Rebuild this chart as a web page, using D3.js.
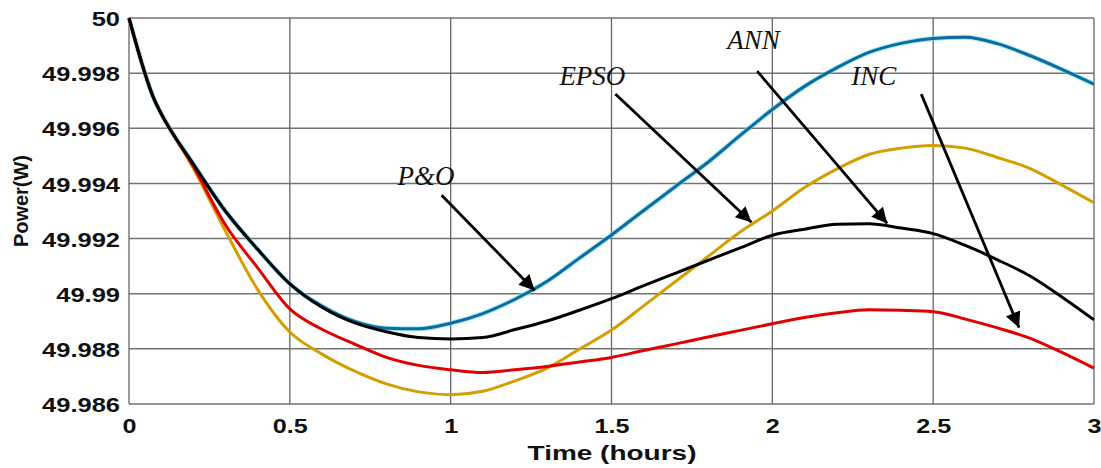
<!DOCTYPE html>
<html>
<head>
<meta charset="utf-8">
<script src="https://cdn.jsdelivr.net/npm/d3@7"></script>
<style>
  html, body { margin: 0; padding: 0; background: #fff; }
  svg { display: block; }
</style>
</head>
<body>
<div id="chart"></div>
<script>
// time axis (hours)
const hours = [0, 0.08, 0.1, 0.2, 0.3, 0.4, 0.5, 0.6, 0.7, 0.8, 0.9, 1.0, 1.1, 1.2, 1.3, 1.4, 1.5,
               1.6, 1.7, 1.8, 1.9, 2.0, 2.1, 2.2, 2.3, 2.4, 2.5, 2.6, 2.7, 2.8, 2.9, 3.0];

const poValues = [50, 49.9970, 49.99653, 49.9947, 49.99299, 49.99161, 49.99036, 49.98955, 49.98900,
                  49.98875, 49.98873, 49.98893, 49.98928, 49.9898, 49.99045, 49.99129, 49.99213,
                  49.99302, 49.9939, 49.99477, 49.99574, 49.99668, 49.99752, 49.99819, 49.99875,
                  49.99908, 49.99926, 49.99930, 49.99907, 49.99864, 49.99814, 49.9976];

const epsoValues = [50, 49.9970, 49.99654, 49.99455, 49.99227, 49.99015, 49.98861, 49.98781, 49.9872,
                    49.98673, 49.98644, 49.98634, 49.98646, 49.98684, 49.9873, 49.98799, 49.98868,
                    49.98956, 49.99045, 49.99135, 49.99224, 49.99300, 49.99385, 49.99452, 49.99505,
                    49.99528, 49.99538, 49.99528, 49.99494, 49.99455, 49.99394, 49.9933];

const incValues = [50, 49.9970, 49.99653, 49.99462, 49.99249, 49.99094, 49.98945, 49.98871, 49.98818,
                   49.98769, 49.9874, 49.98724, 49.98714, 49.98724, 49.98736, 49.98752, 49.98769,
                   49.98794, 49.98818, 49.98843, 49.98867, 49.98891, 49.98914, 49.98931, 49.98942,
                   49.9894, 49.98935, 49.98908, 49.98876, 49.98839, 49.98787, 49.9873];

const annValues = [50, 49.9970, 49.99653, 49.9947, 49.99299, 49.99161, 49.99036, 49.98951, 49.98895,
                   49.98862, 49.98841, 49.98836, 49.98841, 49.9887, 49.98901, 49.9894, 49.98982,
                   49.99029, 49.99075, 49.99121, 49.99166, 49.99212, 49.99234, 49.99252, 49.99254,
                   49.99238, 49.99218, 49.99175, 49.99123, 49.99065, 49.98988, 49.98905];

const xTicks = [0, 0.5, 1, 1.5, 2, 2.5, 3];
const xTickLabels = ['0', '0.5', '1', '1.5', '2', '2.5', '3'];
const yTicks = [49.986, 49.988, 49.99, 49.992, 49.994, 49.996, 49.998, 50];
const yTickLabels = ['49.986', '49.988', '49.99', '49.992', '49.994', '49.996', '49.998', '50'];

// annotation labels: text position and arrow from/to, in data units
const annotLabels = ['P&O', 'EPSO', 'ANN', 'INC'];
const annotText = [[0.835, 49.99393], [1.338, 49.99757], [1.860, 49.99887], [2.245, 49.99757]];
const annotFrom = [[0.972, 49.99357], [1.512, 49.99724], [1.953, 49.99807], [2.463, 49.99724]];
const annotTo = [[1.261, 49.99012], [1.935, 49.99259], [2.357, 49.99255], [2.767, 49.98877]];

const width = 1101;
const height = 468;
const margin = { top: 18, right: 7, bottom: 64, left: 129 };
const sansFont = '"Liberation Sans", Arial, sans-serif';

const svg = d3.select('#chart')
              .append('svg')
              .attr('width', width)
              .attr('height', height);

const x = d3.scaleLinear()
            .domain([0, 3])
            .range([margin.left, width - margin.right]);

const y = d3.scaleLinear()
            .domain([49.986, 50])
            .range([height - margin.bottom, margin.top]);

// grid
svg.append('g')
   .selectAll('line')
   .data(yTicks)
   .enter()
   .append('line')
   .attr('x1', x(0))
   .attr('x2', x(3))
   .attr('y1', (d) => y(d))
   .attr('y2', (d) => y(d))
   .attr('stroke', '#737373')
   .attr('stroke-width', 1.5);

svg.append('g')
   .selectAll('line')
   .data(xTicks)
   .enter()
   .append('line')
   .attr('x1', (d) => x(d))
   .attr('x2', (d) => x(d))
   .attr('y1', y(50))
   .attr('y2', y(49.986))
   .attr('stroke', '#666')
   .attr('stroke-width', 1.3);

// helper: stretch a text sideways so that a sample string gets a wanted width
const stretchFor = (sample, size, wanted) => {
  const t = svg.append('text')
               .style('font-family', sansFont)
               .style('font-weight', 'bold')
               .style('font-size', size + 'px')
               .text(sample);
  const w = t.node().getComputedTextLength();
  t.remove();
  return wanted / w;
};

// tick labels
const ySx = stretchFor('49.998', 21, 78);
const yAxis = d3.axisLeft(y).tickValues(yTicks).tickSize(0).tickPadding(0)
                .tickFormat((d, i) => yTickLabels[i]);
const yG = svg.append('g').attr('transform', 'translate(' + (x(0) - 9) + ',0)').call(yAxis);
yG.select('.domain').remove();
yG.selectAll('text')
  .attr('x', 0)
  .attr('dy', '0.36em')
  .attr('transform', 'scale(' + ySx + ',1)')
  .style('font-family', sansFont)
  .style('font-weight', 'bold')
  .style('font-size', '21px')
  .attr('fill', '#111');

const xSx = stretchFor('0.5', 20, 35);
const xAxis = d3.axisBottom(x).tickValues(xTicks).tickSize(0).tickPadding(0)
                .tickFormat((d, i) => xTickLabels[i]);
const xG = svg.append('g').attr('transform', 'translate(0,' + y(49.986) + ')').call(xAxis);
xG.select('.domain').remove();
xG.selectAll('text')
  .attr('y', 0)
  .attr('dy', 0)
  .attr('transform', 'translate(0,29) scale(' + xSx + ',1)')
  .style('font-family', sansFont)
  .style('font-weight', 'bold')
  .style('font-size', '20px')
  .attr('fill', '#111');

// axis titles
const tSx = stretchFor('Time (hours)', 20, 169);
svg.append('text')
   .attr('transform', 'translate(612,460) scale(' + tSx + ',1)')
   .attr('text-anchor', 'middle')
   .style('font-family', sansFont)
   .style('font-weight', 'bold')
   .style('font-size', '20px')
   .attr('fill', '#111')
   .text('Time (hours)');

const pSx = stretchFor('Power(W)', 21, 92);
svg.append('text')
   .attr('transform', 'translate(28,201) rotate(-90) scale(' + pSx + ',1)')
   .attr('text-anchor', 'middle')
   .style('font-family', sansFont)
   .style('font-weight', 'bold')
   .style('font-size', '21px')
   .attr('fill', '#111')
   .text('Power(W)');

// curves
const line = d3.line()
               .x((d, i) => x(hours[i]))
               .y((d) => y(d))
               .curve(d3.curveMonotoneX);

const series = [
  { name: 'P&O', values: poValues, color: '#0f6b9e', halo: '#5fe0f5' },
  { name: 'EPSO', values: epsoValues, color: '#d39e00', halo: null },
  { name: 'INC', values: incValues, color: '#e00000', halo: null },
  { name: 'ANN', values: annValues, color: '#000000', halo: null }
];

series.forEach((s) => {
  if (s.halo) {
    svg.append('path')
       .datum(s.values)
       .attr('d', line)
       .attr('fill', 'none')
       .attr('stroke', s.halo)
       .attr('stroke-width', 5)
       .attr('stroke-opacity', 0.6);
  }
  svg.append('path')
     .datum(s.values)
     .attr('d', line)
     .attr('fill', 'none')
     .attr('stroke', s.color)
     .attr('stroke-width', 3)
     .attr('stroke-linejoin', 'round');
});

// annotations
svg.append('defs')
   .append('marker')
   .attr('id', 'arrow')
   .attr('viewBox', '0 0 10 10')
   .attr('refX', 10)
   .attr('refY', 5)
   .attr('markerWidth', 7)
   .attr('markerHeight', 5.5)
   .attr('markerUnits', 'strokeWidth')
   .attr('orient', 'auto')
   .append('path')
   .attr('d', 'M0,0 L10,5 L0,10 z')
   .attr('fill', '#000');

annotLabels.forEach((label, i) => {
  svg.append('line')
     .attr('x1', x(annotFrom[i][0]))
     .attr('y1', y(annotFrom[i][1]))
     .attr('x2', x(annotTo[i][0]))
     .attr('y2', y(annotTo[i][1]))
     .attr('stroke', '#000')
     .attr('stroke-width', 2.8)
     .attr('marker-end', 'url(#arrow)');

  svg.append('text')
     .attr('x', x(annotText[i][0]))
     .attr('y', y(annotText[i][1]))
     .style('font-family', '"Liberation Serif", "Times New Roman", serif')
     .style('font-style', 'italic')
     .style('font-size', '27px')
     .attr('fill', '#111')
     .text(label);
});
</script>
</body>
</html>
